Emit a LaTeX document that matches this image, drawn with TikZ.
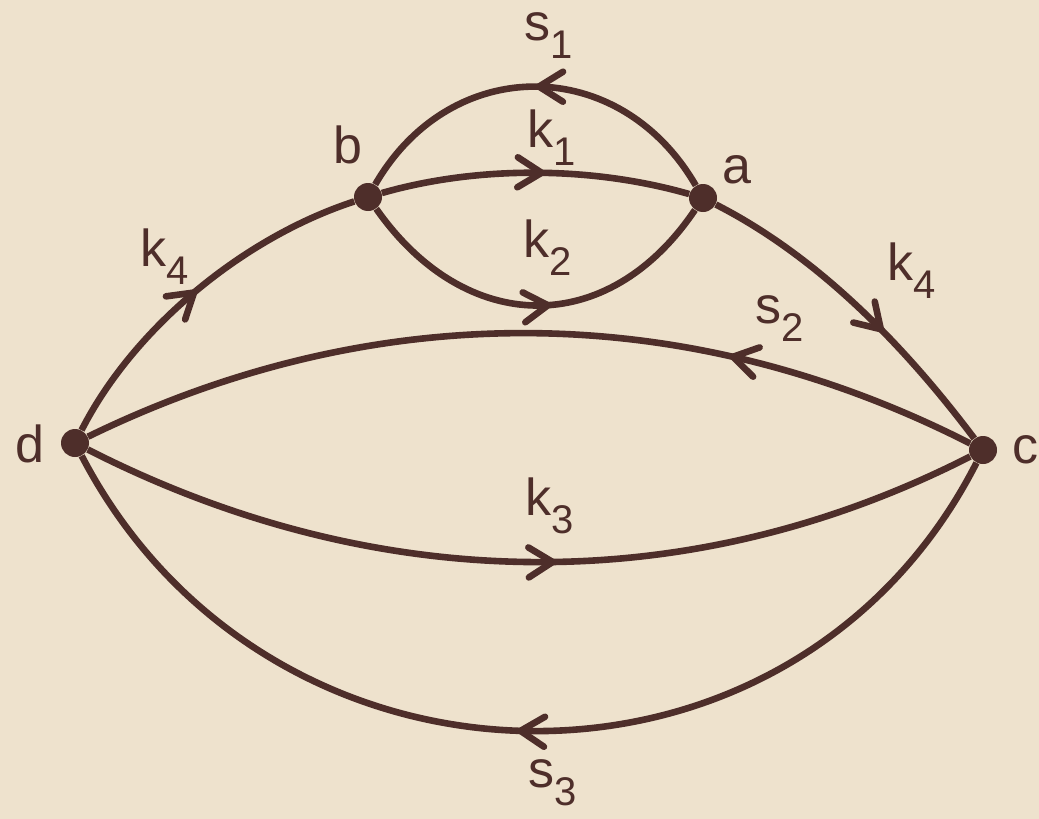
\documentclass[tikz,border=0pt]{standalone}
\usepackage{fontspec}
\setmainfont{Liberation Sans}
\usetikzlibrary{arrows.meta,decorations.markings}
\definecolor{ink}{RGB}{78,46,42}
\definecolor{paper}{RGB}{238,226,205}
% letter with a lowered index, as lettered on the sheet
\newcommand\lab[2]{#1\raisebox{-9pt}{\fontsize{20}{20}\selectfont #2}}
\tikzset{
  dot/.style={circle,fill=ink,inner sep=0pt,minimum size=14pt},
  edge/.style={draw=ink,line width=3.3pt},
  midarrow/.style={postaction={decorate},decoration={markings,
    mark=at position #1 with {\arrow[ink,line width=3.3pt]{Straight Barb[length=12pt,width=15pt,round]}}}},
  txt/.style={anchor=base west,inner sep=0pt,text=ink,font=\fontsize{26}{26}\selectfont}
}
\begin{document}
\begin{tikzpicture}[x=0.5pt,y=0.5pt]
  \fill[paper] (0,0) rectangle (1039,-819);
  \useasboundingbox (0,0) rectangle (1039,-819);
  \node[dot] (d) at (75,-443) {}; \node[dot] (c) at (983,-450) {};
  \node[dot] (b) at (368,-197) {}; \node[dot] (a) at (703,-198) {};
  % upper loop b--a
  \draw[edge,midarrow=0.53] (b) .. controls +(16:115) and +(164:115) .. (a);
  \draw[edge,midarrow=0.54] (b) .. controls +(-55:170) and +(-124:170) .. (a);
  \draw[edge,midarrow=0.5] (a) .. controls +(120:166) and +(60:166) .. (b);
  % outer path d--b, a--c
  \draw[edge,midarrow=0.5] (d) .. controls +(63:130) and +(198:130) .. (b);
  \draw[edge,midarrow=0.6] (a) .. controls +(-27:130) and +(127:130) .. (c);
  % lower lens d--c
  \draw[edge,midarrow=0.28] (c) .. controls +(153:334) and +(26:334) .. (d);
  \draw[edge,midarrow=0.53] (d) .. controls +(-27:335) and +(207:334) .. (c);
  \draw[edge,midarrow=0.51] (c) .. controls +(243:422) and +(-62.5:422) .. (d);
  % lettering
  \node[txt] (ld) at (15,-462) {d}; \node[txt] (lc) at (1012,-463) {c};
  \node[txt] (lb) at (333,-163) {b}; \node[txt] (la) at (722,-183) {a};
  \node[txt] (ls1) at (524,-40) {\lab{s}{1}};
  \node[txt] (lk1) at (527,-147) {\lab{k}{1}};
  \node[txt] (lk2) at (523,-257) {\lab{k}{2}};
  \node[txt] (lk4l) at (140,-266) {\lab{k}{4}};
  \node[txt] (lk4r) at (887,-280) {\lab{k}{4}};
  \node[txt] (ls2) at (755,-323) {\lab{s}{2}};
  \node[txt] (lk3) at (525,-515) {\lab{k}{3}};
  \node[txt] (ls3) at (528,-787) {\lab{s}{3}};
\end{tikzpicture}
\end{document}
